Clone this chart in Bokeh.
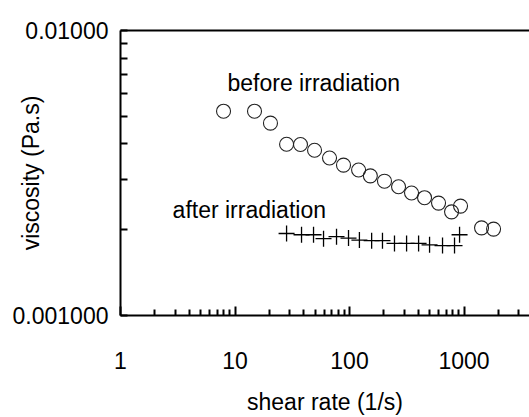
from bokeh.plotting import figure
from bokeh.models import FixedTicker, LogAxis, Label
from bokeh.embed import file_html
from bokeh.resources import INLINE

# ---- data ----
before_x = [7.94, 14.8, 20.4, 28.2, 37.3, 49.5, 66.9, 88.6, 120, 152, 202, 268, 348, 452, 599, 778, 932, 1422, 1811]
before_y = [0.00521, 0.00521, 0.00473, 0.00399, 0.00398, 0.00380, 0.00357, 0.00337, 0.00324, 0.00309,
            0.00296, 0.00283, 0.00269, 0.00259, 0.00248, 0.00231, 0.00242, 0.00203, 0.00201]
after_x = [28.2, 38.1, 48.5, 59.3, 77.0, 98.0, 122, 156, 194, 247, 315, 401, 500, 649, 826, 914]
after_y = [0.00194, 0.00192, 0.00192, 0.00186, 0.00189, 0.00187, 0.00184, 0.00183, 0.00183, 0.00179,
           0.00179, 0.00179, 0.00177, 0.00176, 0.00176, 0.00192]

x_major = [1, 10, 100, 1000]
x_minor = [m * d for d in (1, 10, 100, 1000) for m in range(2, 10)]
x_labels = {1: "1", 10: "10", 100: "100", 1000: "1000"}
y_major = [0.001, 0.01]
y_minor = [0.002, 0.003, 0.004, 0.005, 0.006, 0.007, 0.008, 0.009]
y_labels = {0.001: "0.001000", 0.01: "0.01000"}

FONT = "Liberation Sans"
FS = "23px"

p = figure(width=529, height=417, x_axis_type="log", y_axis_type="log",
           x_range=(1, 3730), y_range=(0.001, 0.01),
           output_backend="svg", toolbar_location=None,
           min_border_left=120, min_border_right=0, min_border_top=30, min_border_bottom=101)
p.grid.visible = False
p.outline_line_color = None
p.background_fill_color = "white"
p.border_fill_color = "white"

for ax in (p.xaxis[0], p.yaxis[0]):
    ax.axis_line_width = 2
    ax.axis_line_color = "black"
    ax.major_tick_line_width = 2
    ax.minor_tick_line_width = 2
    ax.major_tick_line_color = "black"
    ax.minor_tick_line_color = "black"
    ax.major_tick_out = 0
    ax.minor_tick_out = 0
    ax.major_label_text_font = FONT
    ax.major_label_text_font_size = FS
    ax.major_label_text_color = "black"
    ax.axis_label_text_font = FONT
    ax.axis_label_text_font_size = FS
    ax.axis_label_text_font_style = "normal"
    ax.axis_label_text_color = "black"

xa = p.xaxis[0]
xa.ticker = FixedTicker(ticks=x_major, minor_ticks=x_minor)
xa.major_label_overrides = x_labels
xa.major_tick_in = 9
xa.minor_tick_in = 6
xa.major_label_standoff = 36
xa.axis_label = "shear rate (1/s)"
xa.axis_label_standoff = 17

ya = p.yaxis[0]
ya.ticker = FixedTicker(ticks=y_major, minor_ticks=y_minor)
ya.major_label_overrides = y_labels
ya.major_tick_in = 7
ya.minor_tick_in = 7
ya.major_label_standoff = 12
ya.axis_label = "viscosity (Pa.s)"
ya.axis_label_standoff = -34

top = LogAxis(ticker=FixedTicker(ticks=[], minor_ticks=[]), axis_line_width=2, axis_line_color="black",
              major_tick_line_color=None, minor_tick_line_color=None,
              major_label_text_font_size="0px")
p.add_layout(top, "above")

p.scatter(before_x, before_y, marker="circle", size=14, fill_color=None,
          line_color="#222222", line_width=1.1)
p.scatter(after_x, after_y, marker="cross", size=16, line_color="black", line_width=1.3)

p.add_layout(Label(x=8.6, y=0.00653, text="before irradiation", text_font=FONT,
                   text_font_size=FS, text_color="black", text_baseline="alphabetic"))
p.add_layout(Label(x=2.85, y=0.00235, text="after irradiation", text_font=FONT,
                   text_font_size=FS, text_color="black", text_baseline="alphabetic"))

open("out.html", "w").write(file_html(p, INLINE))
